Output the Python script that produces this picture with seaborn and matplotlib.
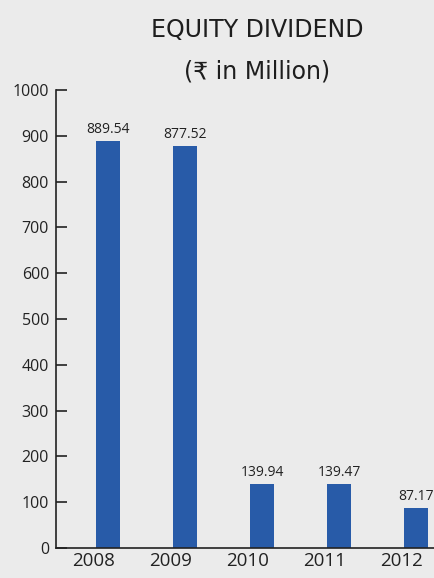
import matplotlib
matplotlib.use("Agg")
import matplotlib.pyplot as plt
import matplotlib.transforms as mtransforms
import seaborn as sns
import pandas as pd

years = ["2008", "2009", "2010", "2011", "2012"]
dividend = [889.54, 877.52, 139.94, 139.47, 87.17]
value_labels = ["889.54", "877.52", "139.94", "139.47", "87.17"]
yticks = [0, 100, 200, 300, 400, 500, 600, 700, 800, 900, 1000]

sns.set_theme(style="white")
plt.rcParams['font.family'] = ['Open Sans', 'DejaVu Sans', 'Noto Sans']

bg = "#ebebeb"
bar_color = "#285ba8"

fig = plt.figure(figsize=(4.34, 5.78), dpi=100, facecolor=bg)
ax = fig.add_axes([56/434, 30/578, 1 - 56/434, 458/578])
ax.set_facecolor(bg)

df = pd.DataFrame({"year": years, "value": dividend})
sns.barplot(data=df, x="year", y="value", color=bar_color, width=0.31,
            saturation=1, linewidth=0, ax=ax)

ax.set_ylim(0, 1000)
ax.set_xlim(-0.675, 4.234)
ax.set_yticks(yticks)
ax.set_yticklabels([str(t) for t in yticks])
ax.set_xlabel("")
ax.set_ylabel("")

for s in ["top", "right"]:
    ax.spines[s].set_visible(False)
for s in ["left", "bottom"]:
    ax.spines[s].set_color("#222222")
    ax.spines[s].set_linewidth(1.2)

ax.tick_params(axis="y", direction="in", length=8, width=1.2, color="#222222",
               labelsize=11.5, pad=5, labelcolor="#222222", left=True)
ax.tick_params(axis="x", length=0, labelsize=13.5, pad=3, labelcolor="#222222")

# x tick labels sit slightly left of the bar centres in the reference
offset = mtransforms.ScaledTranslation(-14/100, 0, fig.dpi_scale_trans)
for lab in ax.get_xticklabels():
    lab.set_transform(lab.get_transform() + offset)

for i, (v, lab) in enumerate(zip(dividend, value_labels)):
    ax.text(i, v + 8, lab, ha="center", va="bottom", fontsize=10, color="#222222")

fig.text(257/434, 1 - 30/578, "EQUITY DIVIDEND", ha="center", va="center",
         fontsize=17, color="#1e1e1e", family=['DejaVu Sans', 'Noto Sans'])
fig.text(257/434, 1 - 72/578, "(\u20b9 in Million)", ha="center", va="center",
         fontsize=17, color="#1e1e1e", family=['DejaVu Sans', 'Noto Sans'])

fig.savefig("out.png", dpi=100, facecolor=bg)
